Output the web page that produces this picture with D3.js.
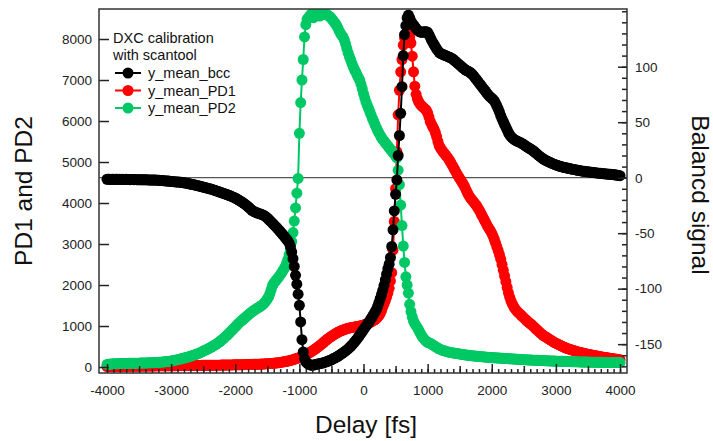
<!DOCTYPE html>
<html>
<head>
<meta charset="utf-8">
<script src="https://cdn.jsdelivr.net/npm/d3@7"></script>
<style>
  body { margin: 0; background: #fff; }
  svg { display: block; font-family: "Liberation Sans", Arial, sans-serif; }
</style>
</head>
<body>
<svg id="chart" width="713" height="441"></svg>
<script>
// scan delays in fs (20 fs steps, one row = 200 fs)
const delayFs = [
  -4000,-3980,-3960,-3940,-3920,-3900,-3880,-3860,-3840,-3820,
  -3800,-3780,-3760,-3740,-3720,-3700,-3680,-3660,-3640,-3620,
  -3600,-3580,-3560,-3540,-3520,-3500,-3480,-3460,-3440,-3420,
  -3400,-3380,-3360,-3340,-3320,-3300,-3280,-3260,-3240,-3220,
  -3200,-3180,-3160,-3140,-3120,-3100,-3080,-3060,-3040,-3020,
  -3000,-2980,-2960,-2940,-2920,-2900,-2880,-2860,-2840,-2820,
  -2800,-2780,-2760,-2740,-2720,-2700,-2680,-2660,-2640,-2620,
  -2600,-2580,-2560,-2540,-2520,-2500,-2480,-2460,-2440,-2420,
  -2400,-2380,-2360,-2340,-2320,-2300,-2280,-2260,-2240,-2220,
  -2200,-2180,-2160,-2140,-2120,-2100,-2080,-2060,-2040,-2020,
  -2000,-1980,-1960,-1940,-1920,-1900,-1880,-1860,-1840,-1820,
  -1800,-1780,-1760,-1740,-1720,-1700,-1680,-1660,-1640,-1620,
  -1600,-1580,-1560,-1540,-1520,-1500,-1480,-1460,-1440,-1420,
  -1400,-1380,-1360,-1340,-1320,-1300,-1280,-1260,-1240,-1220,
  -1200,-1180,-1160,-1140,-1120,-1100,-1080,-1060,-1040,-1020,
  -1000,-980,-960,-940,-920,-900,-880,-860,-840,-820,
  -800,-780,-760,-740,-720,-700,-680,-660,-640,-620,
  -600,-580,-560,-540,-520,-500,-480,-460,-440,-420,
  -400,-380,-360,-340,-320,-300,-280,-260,-240,-220,
  -200,-180,-160,-140,-120,-100,-80,-60,-40,-20,
  0,20,40,60,80,100,120,140,160,180,
  200,220,240,260,280,300,320,340,360,380,
  400,420,440,460,480,500,520,540,560,580,
  600,620,640,660,680,700,720,740,760,780,
  800,820,840,860,880,900,920,940,960,980,
  1000,1020,1040,1060,1080,1100,1120,1140,1160,1180,
  1200,1220,1240,1260,1280,1300,1320,1340,1360,1380,
  1400,1420,1440,1460,1480,1500,1520,1540,1560,1580,
  1600,1620,1640,1660,1680,1700,1720,1740,1760,1780,
  1800,1820,1840,1860,1880,1900,1920,1940,1960,1980,
  2000,2020,2040,2060,2080,2100,2120,2140,2160,2180,
  2200,2220,2240,2260,2280,2300,2320,2340,2360,2380,
  2400,2420,2440,2460,2480,2500,2520,2540,2560,2580,
  2600,2620,2640,2660,2680,2700,2720,2740,2760,2780,
  2800,2820,2840,2860,2880,2900,2920,2940,2960,2980,
  3000,3020,3040,3060,3080,3100,3120,3140,3160,3180,
  3200,3220,3240,3260,3280,3300,3320,3340,3360,3380,
  3400,3420,3440,3460,3480,3500,3520,3540,3560,3580,
  3600,3620,3640,3660,3680,3700,3720,3740,3760,3780,
  3800,3820,3840,3860,3880,3900,3920,3940,3960,3980,
  4000
];

// balanced signal (right axis)
const bccSignal = [
  -1.4,-1.5,-1.3,-1.6,-1.5,-1.4,-1.6,-1.5,-1.5,-1.6,
  -1.5,-1.6,-1.5,-1.7,-1.6,-1.5,-1.7,-1.6,-1.8,-1.7,
  -1.7,-1.8,-1.7,-1.8,-1.8,-1.9,-1.8,-1.9,-1.9,-1.9,
  -1.9,-1.9,-2.0,-2.0,-2.1,-2.1,-2.2,-2.2,-2.2,-2.3,
  -2.3,-2.4,-2.5,-2.6,-2.7,-2.8,-2.9,-3.0,-3.1,-3.3,
  -3.4,-3.5,-3.6,-3.7,-3.8,-3.9,-4.0,-4.1,-4.2,-4.4,
  -4.6,-4.8,-5.0,-5.2,-5.5,-5.7,-6.0,-6.2,-6.5,-6.7,
  -7.0,-7.3,-7.6,-7.9,-8.2,-8.5,-8.8,-9.1,-9.4,-9.7,
  -10.0,-10.3,-10.6,-11.0,-11.4,-11.8,-12.2,-12.6,-13.0,-13.4,
  -13.8,-14.2,-14.6,-15.0,-15.4,-15.9,-16.3,-16.8,-17.3,-17.8,
  -18.4,-19.0,-19.7,-20.4,-21.1,-21.8,-22.6,-23.4,-24.3,-25.2,
  -26.2,-27.2,-28.3,-29.4,-30.2,-30.8,-31.3,-31.7,-32.1,-32.5,
  -32.9,-33.3,-33.8,-34.5,-35.4,-36.4,-37.5,-38.6,-39.8,-41.0,
  -42.2,-43.4,-44.6,-45.9,-47.2,-48.5,-49.8,-51.2,-52.6,-54.0,
  -55.5,-57.0,-59.0,-62.0,-67.0,-73.0,-80.0,-88.0,-96.0,-105.0,
  -115,-130,-146,-157,-163,-166,-167,-168,-168.5,-169,
  -169,-168.8,-168.5,-168.3,-168,-167.8,-167.5,-167.2,-167,-166.7,
  -166.3,-165.9,-165.5,-165,-164.5,-164,-163.4,-162.8,-162.2,-161.6,
  -160.9,-160.2,-159.4,-158.6,-157.8,-157,-156.1,-155.2,-154.2,-153.2,
  -152,-150.8,-149.5,-148.1,-146.7,-145.2,-143.6,-142,-140.3,-138.6,
  -137,-135.4,-133.8,-132.1,-130.4,-128.6,-126.8,-124.9,-123,-121,
  -119,-116,-112.5,-109,-105.5,-101.5,-97,-92,-87,-82,
  -78,-72,-62,-47,-30,-15,-2,20,38,58,
  82,110,129,137,144,146.5,144,141,139,137.5,
  136,134.5,133,132,131.5,131,131,131.5,131.5,131.5,
  131,129,126.5,124,122,120,118,116,114.5,113,
  112,111.5,111,110.5,110,109.5,109,108.5,108,107.5,
  106.5,105.5,104.5,103.5,102.5,101.5,100.5,99.5,98.5,97.5,
  96.8,96.2,95.6,95,94,92.8,91.5,90,88.5,87,
  85.5,84,82.5,81,79.5,78,76.5,75,73.5,72.5,
  71.5,70.5,69,67,64.5,62,59,56,53,50.5,
  48,45.5,43,40.5,38.5,37,35.8,34.8,34,33.3,
  32.8,32.3,31.8,31.2,30.5,29.8,29,28.2,27.4,26.7,
  26,25.3,24.5,23.6,22.6,21.6,20.6,19.6,18.7,17.8,
  17,16.3,15.7,15.1,14.5,14,13.4,12.9,12.4,11.9,
  11.5,11.1,10.7,10.3,10,9.7,9.4,9.1,8.9,8.6,
  8.4,8.1,7.9,7.6,7.4,7.2,7,6.7,6.5,6.3,
  6.1,5.9,5.8,5.6,5.4,5.3,5.1,5,4.8,4.7,
  4.5,4.4,4.3,4.1,4,3.9,3.8,3.6,3.5,3.4,
  3.3,3.2,3.1,3,2.9,2.7,2.6,2.4,2.2,2,
  1.8
];

// PD1 (left axis)
const pd1Values = [
  12,14,13,15,14,16,15,14,16,17,
  16,17,18,17,18,19,18,19,20,20,
  21,20,22,21,22,23,22,23,24,24,
  24,25,25,26,25,26,27,26,27,28,
  28,28,29,29,30,29,30,31,30,31,
  31,32,31,32,33,32,33,34,33,34,
  34,35,35,36,35,36,37,36,37,38,
  38,39,38,39,40,40,41,40,41,42,
  42,43,43,44,44,45,45,46,46,47,
  47,48,48,49,49,50,51,51,52,53,
  53,54,55,55,56,57,58,58,59,60,
  61,62,63,64,65,66,67,68,69,70,
  72,73,75,76,78,80,82,84,86,88,
  92,95,99,103,107,112,117,122,127,133,
  139,146,153,161,170,179,189,199,209,220,
  231,243,256,270,285,300,316,333,351,370,
  390,410,432,455,478,502,527,552,578,604,
  630,656,681,705,728,750,771,791,810,828,
  845,861,876,890,903,915,926,936,945,953,
  960,966,972,978,984,990,996,1002,1008,1015,
  1024,1034,1045,1057,1070,1085,1101,1119,1138,1158,
  1180,1215,1255,1305,1375,1463,1540,1620,1705,1805,
  1920,2100,2300,2850,3550,4350,5250,6150,6750,7200,
  7500,7850,8030,8130,8150,8110,8040,7900,7580,7200,
  6850,6650,6540,6470,6420,6380,6350,6320,6290,6260,
  6200,6100,5990,5920,5860,5800,5720,5620,5500,5400,
  5340,5290,5250,5210,5170,5130,5090,5040,4990,4930,
  4878,4820,4760,4700,4650,4600,4550,4500,4450,4390,
  4320,4250,4190,4140,4100,4060,4020,3980,3940,3890,
  3840,3780,3720,3660,3600,3540,3480,3420,3370,3320,
  3260,3190,3110,3020,2930,2840,2740,2630,2500,2360,
  2220,2080,1940,1810,1700,1610,1540,1480,1430,1385,
  1350,1320,1290,1260,1230,1200,1170,1140,1110,1085,
  1060,1035,1005,975,945,915,885,855,825,800,
  775,755,735,715,695,675,655,635,615,595,
  580,565,550,535,520,505,490,475,462,450,
  440,430,420,410,400,390,380,370,362,355,
  348,340,333,326,319,312,306,300,294,288,
  282,276,270,264,258,252,246,240,235,230,
  225,220,215,210,205,200,196,192,188,184,
  180
];

// PD2 (left axis)
const pd2Values = [
  62,66,70,72,75,77,78,80,81,82,
  83,84,85,86,87,88,88,89,90,90,
  91,92,92,93,94,94,95,96,97,98,
  99,100,101,102,103,105,106,108,110,112,
  114,116,118,121,124,127,130,133,137,141,
  148,154,160,166,172,179,186,193,201,209,
  217,225,234,243,252,262,272,283,294,305,
  316,328,341,355,370,385,400,416,432,448,
  464,481,498,516,535,555,576,598,622,647,
  673,700,728,757,787,818,850,882,915,948,
  980,1012,1044,1075,1105,1133,1160,1187,1213,1240,
  1267,1294,1320,1345,1368,1390,1410,1430,1450,1470,
  1490,1512,1540,1575,1615,1660,1710,1790,1890,1990,
  2040,2080,2120,2160,2200,2245,2290,2340,2390,2450,
  2530,2620,2740,2880,3060,3280,3560,3880,4240,4600,
  5700,6450,7000,7500,8050,8350,8480,8520,8560,8600,
  8560,8520,8580,8620,8640,8600,8560,8600,8640,8620,
  8600,8610,8580,8560,8540,8500,8460,8420,8380,8330,
  8270,8200,8140,8090,8050,7980,7880,7770,7660,7570,
  7490,7400,7320,7250,7190,7120,7060,7000,6900,6790,
  6670,6560,6460,6380,6300,6220,6140,6060,5990,5910,
  5840,5770,5710,5650,5600,5550,5510,5470,5430,5390,
  5350,5310,5270,5230,5190,5150,5100,4800,4450,3950,
  3450,2950,2550,2200,2000,1800,1530,1350,1220,1120,
  1060,1010,960,900,840,780,730,690,655,625,
  600,590,580,560,540,520,500,480,460,445,
  430,415,405,395,385,375,368,362,356,350,
  344,338,333,328,323,318,313,308,303,298,
  293,289,285,281,277,273,269,266,263,260,
  257,254,251,248,245,242,240,237,235,232,
  230,228,226,224,222,220,218,216,214,212,
  210,208,206,204,202,200,198,196,194,192,
  190,188,186,184,182,180,178,176,174,172,
  171,169,168,166,165,163,162,160,159,157,
  156,155,153,152,151,149,148,147,146,144,
  143,142,141,140,139,138,137,136,135,134,
  133,132,131,130,129,128,127,126,125,124,
  123,122,122,121,120,120,119,118,118,117,
  117,116,116,115,115,114,114,113,113,112,
  112,112,111,111,110,110,110,109,109,108,
  108
];

const xTicks = [-4000, -3000, -2000, -1000, 0, 1000, 2000, 3000, 4000];
const leftTicks = [0, 1000, 2000, 3000, 4000, 5000, 6000, 7000, 8000];
const rightTicks = [-150, -100, -50, 0, 50, 100];
const legendTitle = ['DXC calibration', 'with scantool'];
const seriesNames = ['y_mean_bcc', 'y_mean_PD1', 'y_mean_PD2'];
const seriesColors = ['#000000', '#ff0000', '#00c864'];

const svg = d3.select('#chart');
const plot = { left: 99, right: 627, top: 9, bottom: 373 };

const x = d3.scaleLinear().domain([-4125, 4109]).range([plot.left, plot.right]);
const yLeft = d3.scaleLinear().domain([-146, 8732]).range([plot.bottom, plot.top]);
const yRight = d3.scaleLinear().domain([-176, 152]).range([plot.bottom, plot.top]);

svg.append('defs').append('clipPath').attr('id', 'plot-clip')
  .append('rect')
  .attr('x', plot.left).attr('y', plot.top)
  .attr('width', plot.right - plot.left).attr('height', plot.bottom - plot.top);

// zero line of the balanced signal
svg.append('line')
  .attr('x1', plot.left).attr('x2', plot.right)
  .attr('y1', yRight(0)).attr('y2', yRight(0))
  .attr('stroke', '#555').attr('stroke-width', 1.2);

// traces: PD1, PD2 underneath, balanced signal on top
const traces = [
  { values: pd1Values, y: yLeft, color: seriesColors[1] },
  { values: pd2Values, y: yLeft, color: seriesColors[2] },
  { values: bccSignal, y: yRight, color: seriesColors[0] }
];

const dataLayer = svg.append('g').attr('clip-path', 'url(#plot-clip)');

traces.forEach(t => {
  const pts = delayFs.map((d, i) => [d, t.values[i]]);
  const line = d3.line().x(d => x(d[0])).y(d => t.y(d[1]));
  const g = dataLayer.append('g');
  g.append('path')
    .attr('d', line(pts))
    .attr('fill', 'none')
    .attr('stroke', t.color)
    .attr('stroke-width', 2);
  g.selectAll('circle')
    .data(pts)
    .enter().append('circle')
    .attr('cx', d => x(d[0]))
    .attr('cy', d => t.y(d[1]))
    .attr('r', 5.5)
    .attr('fill', t.color);
});

// axes, ticks pointing inside
const tickFont = g => g.selectAll('text')
  .attr('font-size', '13.5px')
  .attr('fill', '#222')
  .attr('font-family', '"Liberation Sans", Arial, sans-serif');

const styleTicks = g => {
  g.select('.domain').remove();
  g.selectAll('line').attr('stroke', '#222').attr('stroke-width', 1.5);
};

svg.append('g')
  .attr('transform', `translate(0,${plot.bottom})`)
  .call(d3.axisBottom(x).tickValues(d3.range(-4000, 4001, 100)).tickFormat('')
    .tickSizeInner(-4).tickSizeOuter(0))
  .call(styleTicks);
svg.append('g')
  .attr('transform', `translate(0,${plot.bottom})`)
  .call(d3.axisBottom(x).tickValues(d3.range(-3500, 4000, 1000)).tickFormat('')
    .tickSizeInner(-7).tickSizeOuter(0))
  .call(styleTicks);
svg.append('g')
  .attr('transform', `translate(0,${plot.bottom})`)
  .call(d3.axisBottom(x).tickValues(xTicks).tickFormat(d => String(d))
    .tickSizeInner(-9).tickSizeOuter(0).tickPadding(12))
  .call(styleTicks)
  .call(tickFont);

svg.append('g')
  .attr('transform', `translate(${plot.left},0)`)
  .call(d3.axisLeft(yLeft).tickValues(leftTicks).tickFormat(d => String(d))
    .tickSizeInner(-10).tickSizeOuter(0).tickPadding(7))
  .call(styleTicks)
  .call(tickFont);

svg.append('g')
  .attr('transform', `translate(${plot.right},0)`)
  .call(d3.axisRight(yRight).tickValues(d3.range(-170, 151, 10)).tickFormat('')
    .tickSizeInner(-5).tickSizeOuter(0))
  .call(styleTicks);
svg.append('g')
  .attr('transform', `translate(${plot.right},0)`)
  .call(d3.axisRight(yRight).tickValues(rightTicks).tickFormat(d => String(d))
    .tickSizeInner(-9).tickSizeOuter(0).tickPadding(8))
  .call(styleTicks)
  .call(tickFont);

// frame
svg.append('rect')
  .attr('x', plot.left).attr('y', plot.top)
  .attr('width', plot.right - plot.left).attr('height', plot.bottom - plot.top)
  .attr('fill', 'none').attr('stroke', '#333').attr('stroke-width', 1.5);

// axis titles
svg.append('text')
  .attr('transform', 'translate(32,191) rotate(-90)')
  .attr('text-anchor', 'middle')
  .attr('font-size', '24.5px').attr('fill', '#111')
  .text('PD1 and PD2');
svg.append('text')
  .attr('transform', 'translate(692,195) rotate(90)')
  .attr('text-anchor', 'middle')
  .attr('font-size', '24.5px').attr('fill', '#111')
  .text('Balancd signal');
svg.append('text')
  .attr('x', 366).attr('y', 433)
  .attr('text-anchor', 'middle')
  .attr('font-size', '24.5px').attr('fill', '#111')
  .text('Delay [fs]');

// legend
const legend = svg.append('g').attr('font-size', '14.5px').attr('fill', '#111');
legendTitle.forEach((t, i) => {
  legend.append('text').attr('x', 113).attr('y', 43 + i * 17).text(t);
});
seriesNames.forEach((name, i) => {
  const cy = 73 + i * 17.5;
  legend.append('line')
    .attr('x1', 115).attr('x2', 141).attr('y1', cy).attr('y2', cy)
    .attr('stroke', seriesColors[i]).attr('stroke-width', 2);
  legend.append('circle')
    .attr('cx', 128).attr('cy', cy).attr('r', 5.5)
    .attr('fill', seriesColors[i]);
  legend.append('text').attr('x', 148).attr('y', cy + 5).text(name);
});
</script>
</body>
</html>
